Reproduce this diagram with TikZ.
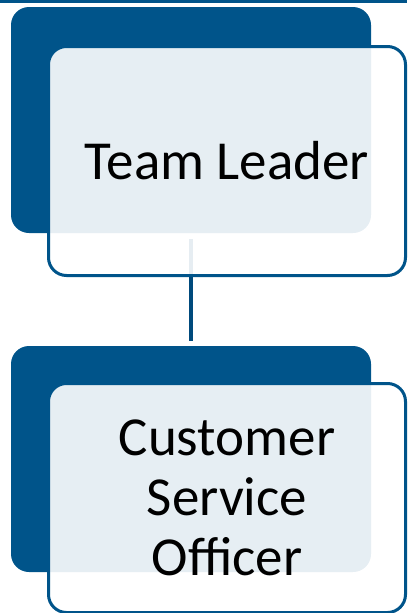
\documentclass[tikz,border=0pt]{standalone}
\usepackage{fontspec}
\setmainfont{Carlito}
\definecolor{boxblue}{RGB}{0,84,138}
\definecolor{linkblue}{RGB}{0,74,124}
\begin{document}
\begin{tikzpicture}[x=1pt,y=-1pt,
  back/.style={fill=boxblue, rounded corners=18pt, minimum width=360pt, minimum height=226pt, inner sep=0pt},
  front/.style={draw=boxblue, line width=3pt, fill=white, fill opacity=0.9, text opacity=1, rounded corners=18pt, minimum width=357pt, minimum height=229pt, inner sep=0pt, align=center, font=\fontsize{55}{60}\selectfont}]
\useasboundingbox (0,0) rectangle (407,613);
\fill[boxblue] (0,0) rectangle (407,3);

\node[back] (tlback) at (191,120) {};
\node[back] (csoback) at (191,459) {};
\path[draw,linkblue,line width=4.5pt,shorten <=6pt,shorten >=5pt] (tlback) -- (csoback);

\node[front] (tl) at (227,161) {Team Leader};
\node[front] (cso) at (227,498) {Customer\\Service\\Officer};
\end{tikzpicture}
\end{document}
